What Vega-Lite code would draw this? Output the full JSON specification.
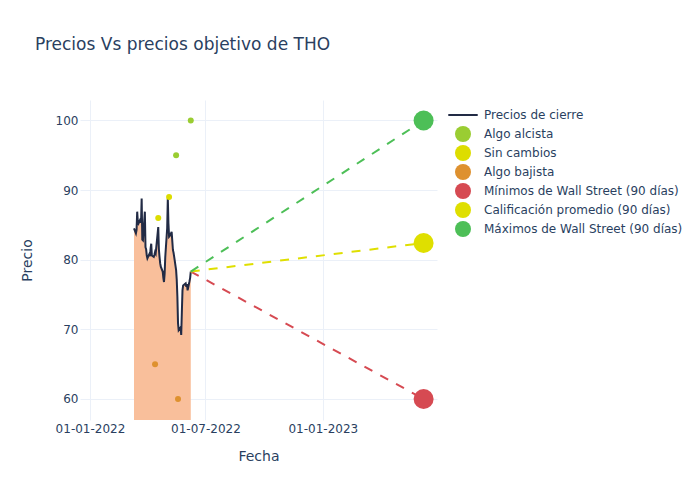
{
  "$schema": "https://vega.github.io/schema/vega-lite/v6.json",
  "width": 357,
  "height": 320,
  "autosize": {"type": "none"},
  "padding": {"left": 80, "top": 100, "right": 263, "bottom": 80},
  "background": "white",
  "title": {
    "text": "Precios Vs precios objetivo de THO",
    "anchor": "start",
    "frame": "group",
    "dx": -45,
    "offset": 46,
    "font": "DejaVu Sans",
    "fontSize": 17,
    "fontWeight": "normal",
    "color": "#2a3f5f"
  },
  "config": {
    "view": {"stroke": null},
    "font": "DejaVu Sans",
    "axis": {
      "domain": false,
      "ticks": false,
      "gridColor": "#ebf0f8",
      "gridWidth": 1,
      "labelFont": "DejaVu Sans",
      "labelFontSize": 12,
      "labelColor": "#2a3f5f",
      "titleFont": "DejaVu Sans",
      "titleFontSize": 14,
      "titleFontWeight": "normal",
      "titleColor": "#2a3f5f"
    },
    "legend": {
      "labelFont": "DejaVu Sans",
      "labelFontSize": 12,
      "labelColor": "#2a3f5f",
      "labelLimit": 400,
      "padding": 0,
      "rowPadding": 3,
      "labelOffset": 13,
      "symbolSize": 256,
      "symbolStrokeWidth": 0,
      "gridAlign": "all"
    }
  },
  "datasets": {
    "precios": [
      {"fecha": "2022-03-11", "precio": 84.5},
      {"fecha": "2022-03-14", "precio": 83.8},
      {"fecha": "2022-03-15", "precio": 84.3},
      {"fecha": "2022-03-16", "precio": 86.9},
      {"fecha": "2022-03-17", "precio": 85.4},
      {"fecha": "2022-03-18", "precio": 85.2},
      {"fecha": "2022-03-21", "precio": 85.8},
      {"fecha": "2022-03-22", "precio": 85.3},
      {"fecha": "2022-03-23", "precio": 88.8},
      {"fecha": "2022-03-24", "precio": 82.9},
      {"fecha": "2022-03-25", "precio": 82.8},
      {"fecha": "2022-03-28", "precio": 86.9},
      {"fecha": "2022-03-29", "precio": 81.8},
      {"fecha": "2022-03-30", "precio": 81.5},
      {"fecha": "2022-03-31", "precio": 80.6},
      {"fecha": "2022-04-01", "precio": 80.2},
      {"fecha": "2022-04-04", "precio": 80.8},
      {"fecha": "2022-04-05", "precio": 80.5},
      {"fecha": "2022-04-06", "precio": 81.6},
      {"fecha": "2022-04-07", "precio": 82.3},
      {"fecha": "2022-04-08", "precio": 80.6},
      {"fecha": "2022-04-11", "precio": 80.4},
      {"fecha": "2022-04-12", "precio": 80.7},
      {"fecha": "2022-04-13", "precio": 81.1},
      {"fecha": "2022-04-14", "precio": 80.9},
      {"fecha": "2022-04-18", "precio": 84.7},
      {"fecha": "2022-04-19", "precio": 81.5},
      {"fecha": "2022-04-20", "precio": 80.4},
      {"fecha": "2022-04-21", "precio": 79.5},
      {"fecha": "2022-04-22", "precio": 79.0},
      {"fecha": "2022-04-25", "precio": 78.3},
      {"fecha": "2022-04-26", "precio": 77.4},
      {"fecha": "2022-04-27", "precio": 76.8},
      {"fecha": "2022-04-28", "precio": 78.0},
      {"fecha": "2022-04-29", "precio": 80.4},
      {"fecha": "2022-05-02", "precio": 84.5},
      {"fecha": "2022-05-03", "precio": 88.8},
      {"fecha": "2022-05-04", "precio": 85.2},
      {"fecha": "2022-05-05", "precio": 83.3},
      {"fecha": "2022-05-06", "precio": 83.4},
      {"fecha": "2022-05-09", "precio": 84.0},
      {"fecha": "2022-05-10", "precio": 82.7},
      {"fecha": "2022-05-11", "precio": 81.4},
      {"fecha": "2022-05-12", "precio": 81.0},
      {"fecha": "2022-05-13", "precio": 80.4},
      {"fecha": "2022-05-16", "precio": 78.5},
      {"fecha": "2022-05-17", "precio": 77.1},
      {"fecha": "2022-05-18", "precio": 74.7},
      {"fecha": "2022-05-19", "precio": 70.9},
      {"fecha": "2022-05-20", "precio": 69.9},
      {"fecha": "2022-05-23", "precio": 70.3},
      {"fecha": "2022-05-24", "precio": 69.2},
      {"fecha": "2022-05-25", "precio": 72.5},
      {"fecha": "2022-05-26", "precio": 75.6},
      {"fecha": "2022-05-27", "precio": 76.3},
      {"fecha": "2022-05-31", "precio": 76.6},
      {"fecha": "2022-06-01", "precio": 76.1},
      {"fecha": "2022-06-02", "precio": 76.5},
      {"fecha": "2022-06-03", "precio": 75.6},
      {"fecha": "2022-06-06", "precio": 76.9},
      {"fecha": "2022-06-07", "precio": 77.4},
      {"fecha": "2022-06-08", "precio": 78.3}
    ],
    "recomendaciones": [
      {"fecha": "2022-06-08", "precio": 100, "serie": "Algo alcista"},
      {"fecha": "2022-05-16", "precio": 95, "serie": "Algo alcista"},
      {"fecha": "2022-04-18", "precio": 86, "serie": "Sin cambios"},
      {"fecha": "2022-05-05", "precio": 89, "serie": "Sin cambios"},
      {"fecha": "2022-04-13", "precio": 65, "serie": "Algo bajista"},
      {"fecha": "2022-05-19", "precio": 60, "serie": "Algo bajista"}
    ],
    "objetivos": [
      {"fecha": "2023-06-08", "precio": 60, "serie": "Mínimos de Wall Street (90 días)"},
      {"fecha": "2023-06-08", "precio": 82.4, "serie": "Calificación promedio (90 días)"},
      {"fecha": "2023-06-08", "precio": 100, "serie": "Máximos de Wall Street (90 días)"}
    ],
    "proyecciones": [
      {"fecha": "2022-06-08", "precio": 78.3, "serie": "Mínimos de Wall Street (90 días)"},
      {"fecha": "2023-06-08", "precio": 60, "serie": "Mínimos de Wall Street (90 días)"},
      {"fecha": "2022-06-08", "precio": 78.3, "serie": "Calificación promedio (90 días)"},
      {"fecha": "2023-06-08", "precio": 82.4, "serie": "Calificación promedio (90 días)"},
      {"fecha": "2022-06-08", "precio": 78.3, "serie": "Máximos de Wall Street (90 días)"},
      {"fecha": "2023-06-08", "precio": 100, "serie": "Máximos de Wall Street (90 días)"}
    ]
  },
  "encoding": {
    "x": {
      "field": "fecha",
      "type": "temporal",
      "title": "Fecha",
      "scale": {
        "type": "utc",
        "domain": [
          {"year": 2021, "month": 12, "date": 16, "hours": 8, "utc": true},
          {"year": 2023, "month": 6, "date": 29, "utc": true}
        ]
      },
      "axis": {
        "values": [
          {"year": 2022, "month": 1, "date": 1, "utc": true},
          {"year": 2022, "month": 7, "date": 1, "utc": true},
          {"year": 2023, "month": 1, "date": 1, "utc": true}
        ],
        "format": "%d-%m-%Y",
        "labelPadding": 3,
        "titlePadding": 15,
        "labelFlush": false
      }
    },
    "y": {
      "field": "precio",
      "type": "quantitative",
      "title": "Precio",
      "scale": {"domain": [56.98, 102.94], "nice": false, "zero": false},
      "axis": {"values": [60, 70, 80, 90, 100], "labelPadding": 2, "titlePadding": 21}
    }
  },
  "layer": [
    {
      "data": {"name": "precios"},
      "mark": {"type": "area", "clip": true, "color": "#f9bf9b", "opacity": 1}
    },
    {
      "data": {"name": "precios"},
      "mark": {"type": "line", "strokeWidth": 2, "clip": true, "color": "#222b45"}
    },
    {
      "data": {"name": "proyecciones"},
      "mark": {"type": "line", "strokeWidth": 2, "strokeDash": [9, 9], "clip": true},
      "encoding": {
        "stroke": {
          "field": "serie", "type": "nominal", "legend": null,
          "scale": {
            "domain": ["Mínimos de Wall Street (90 días)", "Calificación promedio (90 días)", "Máximos de Wall Street (90 días)"],
            "range": ["#d64a52", "#dfdf00", "#4dbf57"]
          }
        }
      }
    },
    {
      "data": {"name": "recomendaciones"},
      "mark": {"type": "point", "filled": true, "opacity": 1, "strokeWidth": 0, "size": 36},
      "encoding": {
        "color": {
          "field": "serie", "type": "nominal",
          "legend": {
            "title": null, "orient": "none", "legendX": 375, "legendY": 7,
            "encode": {"symbols": {"size": {"value": {"expr": "datum.value === 'Algo alcista' || datum.value === 'Sin cambios' || datum.value === 'Algo bajista' ? 36 : 256"}}}}
          },
          "scale": {
            "domain": ["Precios de cierre", "Algo alcista", "Sin cambios", "Algo bajista", "Mínimos de Wall Street (90 días)", "Calificación promedio (90 días)", "Máximos de Wall Street (90 días)"],
            "range": ["#222b45", "#9acd32", "#dddd00", "#de912f", "#d64a52", "#dfdf00", "#4dbf57"]
          }
        },
        "shape": {
          "field": "serie", "type": "nominal",
          "legend": {"title": null, "orient": "none", "legendX": 375, "legendY": 7},
          "scale": {
            "domain": ["Precios de cierre", "Algo alcista", "Sin cambios", "Algo bajista", "Mínimos de Wall Street (90 días)", "Calificación promedio (90 días)", "Máximos de Wall Street (90 días)"],
            "range": ["M-1.84,-0.125L1.84,-0.125L1.84,0.125L-1.84,0.125Z", "circle", "circle", "circle", "circle", "circle", "circle"]
          }
        }
      }
    },
    {
      "data": {"name": "objetivos"},
      "mark": {"type": "point", "filled": true, "opacity": 1, "strokeWidth": 0, "size": 400},
      "encoding": {
        "color": {
          "field": "serie", "type": "nominal",
          "legend": {
            "title": null, "orient": "none", "legendX": 375, "legendY": 7,
            "encode": {"symbols": {"size": {"value": {"expr": "datum.value === 'Algo alcista' || datum.value === 'Sin cambios' || datum.value === 'Algo bajista' ? 36 : 256"}}}}
          },
          "scale": {
            "domain": ["Precios de cierre", "Algo alcista", "Sin cambios", "Algo bajista", "Mínimos de Wall Street (90 días)", "Calificación promedio (90 días)", "Máximos de Wall Street (90 días)"],
            "range": ["#222b45", "#9acd32", "#dddd00", "#de912f", "#d64a52", "#dfdf00", "#4dbf57"]
          }
        },
        "shape": {
          "field": "serie", "type": "nominal",
          "legend": {"title": null, "orient": "none", "legendX": 375, "legendY": 7},
          "scale": {
            "domain": ["Precios de cierre", "Algo alcista", "Sin cambios", "Algo bajista", "Mínimos de Wall Street (90 días)", "Calificación promedio (90 días)", "Máximos de Wall Street (90 días)"],
            "range": ["M-1.84,-0.125L1.84,-0.125L1.84,0.125L-1.84,0.125Z", "circle", "circle", "circle", "circle", "circle", "circle"]
          }
        }
      }
    }
  ]
}
